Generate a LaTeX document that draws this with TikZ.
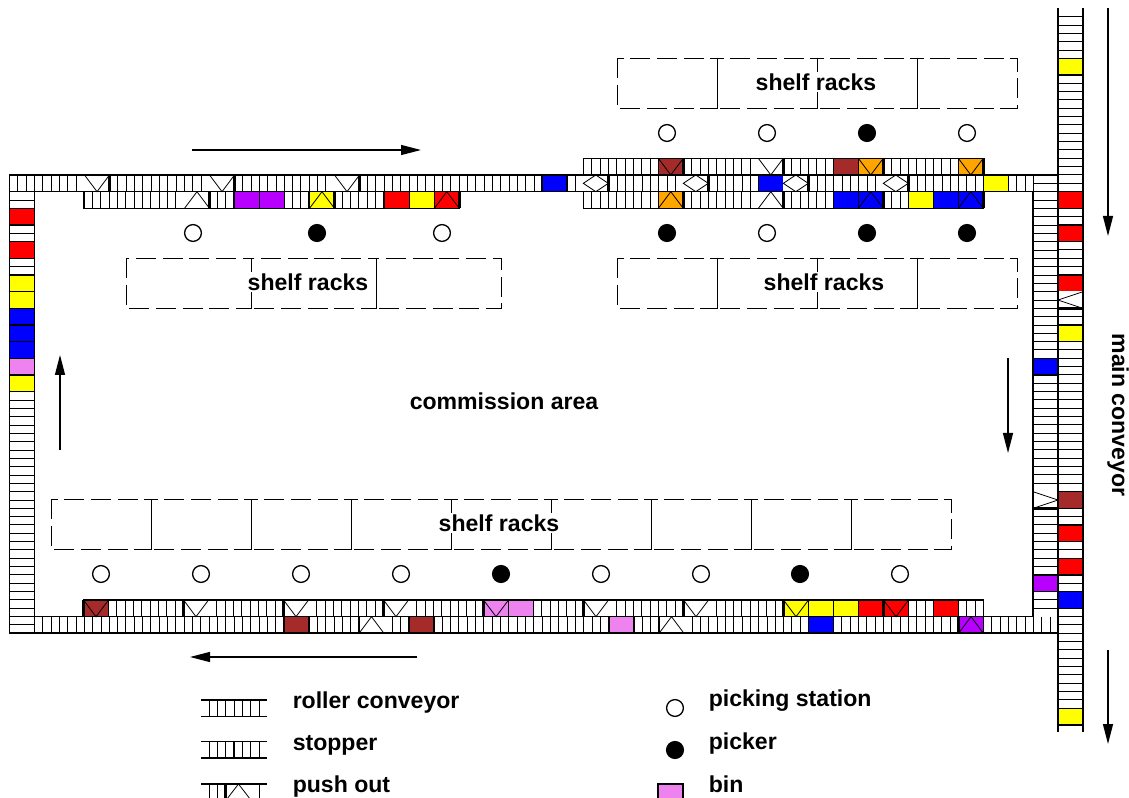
\documentclass[tikz,border=0pt]{standalone}
\usepackage{fontspec}
\setmainfont{Liberation Sans}
\usepackage{xcolor}
\usetikzlibrary{arrows.meta}
\definecolor{BinRed}{HTML}{FF0000}
\definecolor{BinYellow}{HTML}{FFFF00}
\definecolor{BinBlue}{HTML}{0000FF}
\definecolor{BinBrown}{HTML}{A52A2A}
\definecolor{BinOrange}{HTML}{FFA500}
\definecolor{BinViolet}{HTML}{EE82EE}
\definecolor{BinPurple}{HTML}{B700FF}
\tikzset{
  rail/.style={line width=0.95pt},
  roller/.style={line width=0.6pt},
  stopper/.style={line width=2pt},
  pushline/.style={line width=0.6pt},
  binred/.style={draw=black,line width=0.95pt,fill=BinRed},
  binyellow/.style={draw=black,line width=0.95pt,fill=BinYellow},
  binblue/.style={draw=black,line width=0.95pt,fill=BinBlue},
  binbrown/.style={draw=black,line width=0.95pt,fill=BinBrown},
  binorange/.style={draw=black,line width=0.95pt,fill=BinOrange},
  binviolet/.style={draw=black,line width=0.95pt,fill=BinViolet},
  binpurple/.style={draw=black,line width=0.95pt,fill=BinPurple},
  binfree/.style={draw=white,line width=0.6pt,fill=white},
  rackbox/.style={line width=0.75pt,dash pattern=on 15pt off 5pt},
  flowarrow/.style={line width=1pt,-{Triangle[length=15pt,width=7.5pt]}},
  station/.style={circle,draw,line width=1pt,fill=white,minimum size=12.6pt,inner sep=0pt},
  picker/.style={circle,draw,line width=1pt,fill=black,minimum size=12.6pt,inner sep=0pt},
  boldtext/.style={font=\bfseries\fontsize{17.3}{20}\selectfont,inner sep=0pt},
  racktext/.style={boldtext,fill=white,inner sep=1pt}
}
\newcommand{\hbin}[3]{\path[#1] (#2,#3) rectangle ++(25,16.67);}
\newcommand{\vbin}[3]{\path[#1] (#2,#3) rectangle ++(25,16.67);}
\newcommand{\pushdown}[4]{\path[#1] (#2,#3) rectangle ++(25,16.67);
  \draw[pushline] (#2,#3) -- ++(12.5,16.67) -- ++(12.5,-16.67);
  \draw[stopper] (#4,#3) -- ++(0,16.67);}
\newcommand{\pushup}[4]{\path[#1] (#2,#3) rectangle ++(25,16.67);
  \draw[pushline] (#2,#3) ++(0,16.67) -- ++(12.5,-16.67) -- ++(12.5,16.67);
  \draw[stopper] (#4,#3) -- ++(0,16.67);}
\newcommand{\pushboth}[3]{\path[binfree] (#1,#2) rectangle ++(25,16.67);
  \draw[pushline] (#1,#2) ++(0,8.33) -- ++(12.5,-8.33) -- ++(12.5,8.33) -- ++(-12.5,8.33) -- cycle;
  \draw[stopper] (#3,#2) -- ++(0,16.67);}
\newcommand{\pushleft}[2]{\path[binfree] (#1,#2) rectangle ++(25,16.67);
  \draw[pushline] (#1,#2) ++(25,0) -- ++(-25,8.33) -- ++(25,8.33);
  \draw[stopper] (#1,#2) ++(0,16.67) -- ++(25,0);}
\newcommand{\pushright}[2]{\path[binfree] (#1,#2) rectangle ++(25,16.67);
  \draw[pushline] (#1,#2) -- ++(25,8.33) -- ++(-25,8.33);
  \draw[stopper] (#1,#2) ++(0,16.67) -- ++(25,0);}

\begin{document}
\begin{tikzpicture}[x=0.75pt,y=-0.75pt]
\path[use as bounding box] (0,0) rectangle (1129,798);
\foreach \n in {0,...,123} \draw[roller] ({9.5+8.325*\n},175) -- ++(0,16.67);
\foreach \n in {0,...,123} \draw[roller] ({34.3+8.325*\n},616.7) -- ++(0,16.3);
\foreach \n in {0,...,45} \draw[roller] ({84+8.325*\n},191.7) -- ++(0,16.6);
\foreach \n in {0,...,108} \draw[roller] ({83.5+8.333*\n},600) -- ++(0,16.7);
\foreach \n in {0,...,48} \draw[roller] ({583.3+8.333*\n},158.3) -- ++(0,16.7);
\foreach \n in {0,...,48} \draw[roller] ({583.3+8.333*\n},191.7) -- ++(0,16.6);
\foreach \n in {0,...,53} \draw[roller] (9.5,{191.7+8.33*\n}) -- ++(24.8,0);
\foreach \n in {0,...,51} \draw[roller] (1033,{183.3+8.33*\n}) -- ++(25,0);
\foreach \n in {0,...,85} \draw[roller] (1058,{16.6+8.33*\n}) -- ++(25,0);
\pushdown{binfree}{84.5}{175}{109.5}
\pushdown{binfree}{209.5}{175}{234.5}
\pushdown{binfree}{334.5}{175}{359.5}
\hbin{binblue}{542}{175}
\pushup{binfree}{184.5}{191.7}{209.5}
\hbin{binpurple}{234.5}{191.7}
\hbin{binpurple}{259.5}{191.7}
\pushup{binyellow}{309.5}{191.7}{334.5}
\hbin{binred}{384.3}{191.7}
\hbin{binyellow}{409.3}{191.7}
\pushup{binred}{434.3}{191.7}{459.3}
\pushdown{binbrown}{658.3}{158.3}{683.3}
\pushdown{binfree}{758.3}{158.3}{783.3}
\hbin{binbrown}{833.3}{158.3}
\pushdown{binorange}{858.3}{158.3}{883.3}
\pushdown{binorange}{958.3}{158.3}{983.3}
\pushboth{583.3}{175}{608.3}
\pushboth{683.3}{175}{708.3}
\hbin{binblue}{758.3}{175}
\pushboth{783.3}{175}{808.3}
\pushboth{883.3}{175}{908.3}
\hbin{binyellow}{983.3}{175}
\pushup{binorange}{658.3}{191.7}{683.3}
\pushup{binfree}{758.3}{191.7}{783.3}
\hbin{binblue}{833.3}{191.7}
\pushup{binblue}{858.3}{191.7}{883.3}
\hbin{binyellow}{908.3}{191.7}
\hbin{binblue}{933.3}{191.7}
\pushup{binblue}{958.3}{191.7}{983.3}
\pushdown{binbrown}{83.5}{600}{83.5}
\pushdown{binfree}{183.5}{600}{183.5}
\pushdown{binfree}{283.5}{600}{283.5}
\pushdown{binfree}{383.5}{600}{383.5}
\pushdown{binviolet}{483.5}{600}{483.5}
\hbin{binviolet}{508.5}{600}
\pushdown{binfree}{583.5}{600}{583.5}
\pushdown{binfree}{683.5}{600}{683.5}
\pushdown{binyellow}{783.5}{600}{783.5}
\hbin{binyellow}{808.5}{600}
\hbin{binyellow}{833.5}{600}
\hbin{binred}{858.5}{600}
\pushdown{binred}{883.5}{600}{883.5}
\hbin{binred}{933.5}{600}
\hbin{binbrown}{284}{616.7}
\pushup{binfree}{359}{616.7}{359}
\hbin{binbrown}{409}{616.7}
\hbin{binviolet}{609}{616.7}
\pushup{binfree}{659}{616.7}{659}
\hbin{binblue}{808.5}{616.7}
\pushup{binpurple}{958.5}{616.7}{958.5}
\vbin{binred}{9.5}{208.3}
\vbin{binred}{9.5}{241.7}
\vbin{binyellow}{9.5}{275}
\vbin{binyellow}{9.5}{291.7}
\vbin{binblue}{9.5}{308.3}
\vbin{binblue}{9.5}{325}
\vbin{binblue}{9.5}{341.7}
\vbin{binviolet}{9.5}{358.3}
\vbin{binyellow}{9.5}{375}
\vbin{binblue}{1033}{358.3}
\pushright{1033}{491.7}
\vbin{binpurple}{1033}{575}
\vbin{binyellow}{1058}{58.3}
\vbin{binred}{1058}{191.7}
\vbin{binred}{1058}{225}
\vbin{binred}{1058}{275}
\pushleft{1058}{291.7}
\vbin{binyellow}{1058}{325}
\vbin{binbrown}{1058}{491.7}
\vbin{binred}{1058}{525}
\vbin{binred}{1058}{558.3}
\vbin{binblue}{1058}{591.7}
\vbin{binyellow}{1058}{708.3}
\draw[rail] (1058,175) -- (9.5,175) -- (9.5,633) -- (1058,633);
\draw[rail] (1033,191.7) -- (34.3,191.7) -- (34.3,616.7) -- (1033,616.7) -- cycle;
\draw[rail] (84,191.7) -- (84,208.3) -- (459.3,208.3) -- (459.3,191.7);
\draw[rail] (83.5,616.7) -- (83.5,600) -- (983.5,600) -- (983.5,616.7);
\draw[rail] (583.3,175) -- (583.3,158.3) -- (983.3,158.3) -- (983.3,175);
\draw[rail] (583.3,191.7) -- (583.3,208.3) -- (983.3,208.3) -- (983.3,191.7);
\draw[rail] (1058,8.3) -- (1058,732);
\draw[rail] (1083,8.3) -- (1083,732);
\foreach \x in {617,717,817,917} \draw[rackbox] (\x,58.3) rectangle ++(100,50);
\foreach \x in {617,717,817,917} \draw[rackbox] (\x,258.3) rectangle ++(100,50);
\foreach \x in {126,251,376} \draw[rackbox] (\x,258.3) rectangle ++(125,50);
\foreach \x in {51,151,...,851} \draw[rackbox] (\x,499.5) rectangle ++(100,50);
\node[racktext] (rackstop) at (816,82) {shelf racks};
\node[racktext] (rackright) at (824,282) {shelf racks};
\node[racktext] (rackleft) at (308,282) {shelf racks};
\node[racktext] (rackbottom) at (499,523) {shelf racks};
\node[boldtext] (area) at (504,401) {commission area};
\node[boldtext,rotate=-90,anchor=base] (mainname) at (1112,415) {main conveyor};
\foreach \x in {667,767,967} \node[station] (sa\x) at (\x,133) {};
\node[picker] (pa) at (867,133) {};
\foreach \x in {193,442,767} \node[station] (sb\x) at (\x,233) {};
\foreach \x in {317,667,867,967} \node[picker] (pb\x) at (\x,233) {};
\foreach \x in {101,201,301,401,601,701,900} \node[station] (sc\x) at (\x,574) {};
\foreach \x in {501,800} \node[picker] (pc\x) at (\x,574) {};
\draw[flowarrow] (192,150) -- (421,150);
\draw[flowarrow] (417,657) -- (190,657);
\draw[flowarrow] (60,450) -- (60,355);
\draw[flowarrow] (1008,358) -- (1008,453);
\draw[flowarrow] (1108,8.3) -- (1108,236);
\draw[flowarrow] (1108,650) -- (1108,744);
\foreach \y in {700,741.5} \draw[rail] (201,\y) -- (267,\y) (201,\y+16.5) -- (267,\y+16.5);
\foreach \x in {209,217.3,225.6,234,242.3,250.6,259} \draw[roller] (\x,700) -- ++(0,16.5);
\foreach \x in {209,217.3,225.6,242.3,250.6,259} \draw[roller] (\x,741.5) -- ++(0,16.5);
\draw[stopper] (234,741.5) -- ++(0,16.5);
\draw[rail] (201,784) -- (267,784);
\foreach \x in {209,217.3,259} \draw[roller] (\x,784) -- (\x,798);
\draw[stopper] (225.6,784) -- (225.6,798);
\draw[pushline] (227.7,798) -- (238.5,784) -- (249.3,798);
\node[boldtext,anchor=base west] (legroller) at (292.5,708.8) {roller conveyor};
\node[boldtext,anchor=base west] (legstopper) at (292.5,750) {stopper};
\node[boldtext,anchor=base west] (legpush) at (292.5,792) {push out};
\node[station] (legstation) at (675,708) {};
\node[picker] (legpicker) at (675,750) {};
\path[fill=BinViolet] (658,784) rectangle (683,798);
\draw[rail] (658,798) -- (658,784) -- (683,784) -- (683,798);
\node[boldtext,anchor=base west] (legstationtext) at (708.5,706) {picking station};
\node[boldtext,anchor=base west] (legpickertext) at (708.5,749) {picker};
\node[boldtext,anchor=base west] (legbintext) at (708.5,792) {bin};
\end{tikzpicture}
\end{document}
